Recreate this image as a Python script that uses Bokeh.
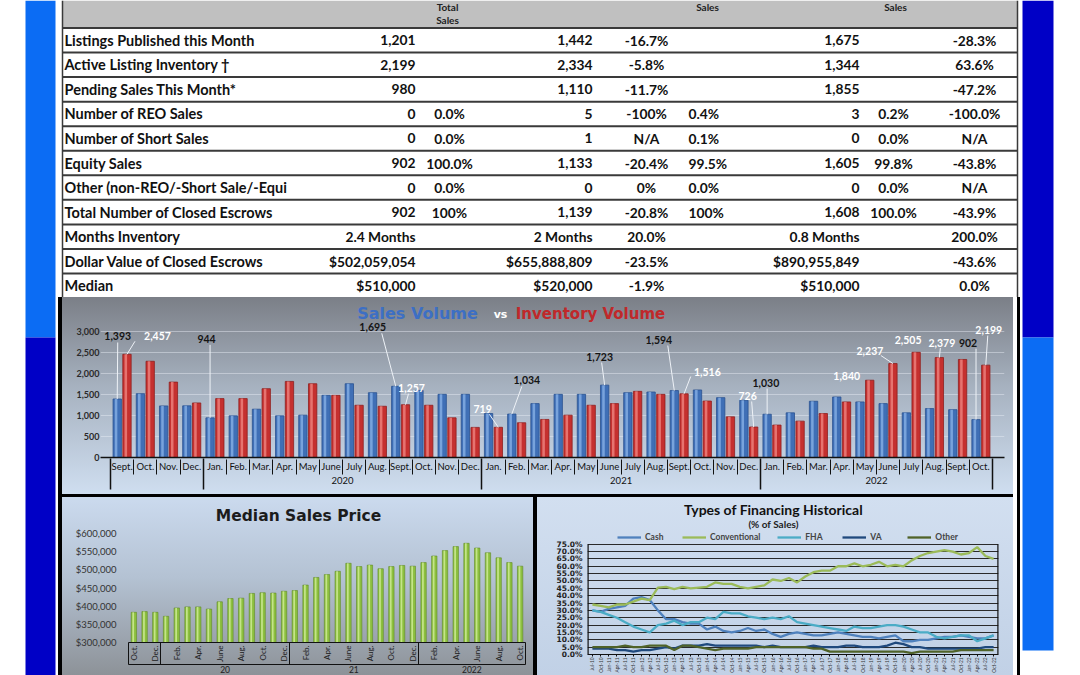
import numpy as np
from bokeh.plotting import figure
from bokeh.models import (Range1d, FixedTicker, LinearAxis, ColumnDataSource, LabelSet, Label,
                          Legend, LegendItem, Spacer, NumeralTickFormatter, PrintfTickFormatter, Grid)
from bokeh.layouts import row, column
from bokeh.transform import dodge
from bokeh.core.properties import value
from bokeh.embed import file_html
from bokeh.resources import INLINE

# ---------------------------------------------------------------- data
row_labels = ["Listings Published this Month", "Active Listing Inventory \u2020",
              "Pending Sales This Month*", "Number of REO Sales", "Number of Short Sales",
              "Equity Sales", "Other (non-REO/-Short Sale/-Equi", "Total Number of Closed Escrows",
              "Months Inventory", "Dollar Value of Closed Escrows", "Median"]
cur_vals = ["1,201", "2,199", "980", "0", "0", "902", "0", "902", "2.4 Months", "$502,059,054", "$510,000"]
cur_share = ["", "", "", "0.0%", "0.0%", "100.0%", "0.0%", "100%", "", "", ""]
prev_vals = ["1,442", "2,334", "1,110", "5", "1", "1,133", "0", "1,139", "2 Months", "$655,888,809", "$520,000"]
prev_chg = ["-16.7%", "-5.8%", "-11.7%", "-100%", "N/A", "-20.4%", "0%", "-20.8%", "20.0%", "-23.5%", "-1.9%"]
prev_share = ["", "", "", "0.4%", "0.1%", "99.5%", "0.0%", "100%", "", "", ""]
yr_vals = ["1,675", "1,344", "1,855", "3", "0", "1,605", "0", "1,608", "0.8 Months", "$890,955,849", "$510,000"]
yr_share = ["", "", "", "0.2%", "0.0%", "99.8%", "0.0%", "100.0%", "", "", ""]
yr_chg = ["-28.3%", "63.6%", "-47.2%", "-100.0%", "N/A", "-43.8%", "N/A", "-43.9%", "200.0%", "-43.6%", "0.0%"]
header_texts = ["Total", "Sales", "Sales", "Sales"]

bar_months = ["Sept.", "Oct.", "Nov.", "Dec.",
              "Jan.", "Feb.", "Mar.", "Apr.", "May", "June", "July", "Aug.", "Sept.", "Oct.", "Nov.", "Dec.",
              "Jan.", "Feb.", "Mar.", "Apr.", "May", "June", "July", "Aug.", "Sept.", "Oct.", "Nov.", "Dec.",
              "Jan.", "Feb.", "Mar.", "Apr.", "May", "June", "July", "Aug.", "Sept.", "Oct."]
bar_groups = ["", "2020", "2021", "2022"]
bar_group_sizes = [4, 12, 12, 10]
sales_volume = [1393, 1520, 1228, 1230, 944, 992, 1150, 992, 1008, 1480, 1756, 1543, 1695, 1598, 1504, 1504,
                1047, 1034, 1283, 1504, 1504, 1723, 1543, 1559, 1594, 1608, 1425, 1362,
                1030, 1063, 1339, 1441, 1323, 1283, 1063, 1165, 1139, 902]
inventory_volume = [2457, 2291, 1795, 1299, 1402, 1402, 1638, 1811, 1756, 1480, 1244, 1220, 1257, 1244, 945, 717,
                    719, 827, 906, 1008, 1244, 1283, 1575, 1504, 1516, 1344, 968, 726,
                    772, 866, 1047, 1323, 1840, 2237, 2505, 2379, 2334, 2199]
labeled_bars = [(0, "sales"), (0, "inv"), (4, "sales"), (12, "sales"), (12, "inv"), (16, "inv"),
                (17, "sales"), (21, "sales"), (24, "sales"), (24, "inv"), (27, "inv"), (28, "sales"),
                (32, "inv"), (33, "inv"), (34, "inv"), (35, "inv"), (37, "sales"), (37, "inv")]

median_months = ["Oct.", "Nov.", "Dec.",
                 "Jan.", "Feb.", "Mar.", "Apr.", "May", "June", "July", "Aug.", "Sept.", "Oct.", "Nov.", "Dec.",
                 "Jan.", "Feb.", "Mar.", "Apr.", "May", "June", "July", "Aug.", "Sept.", "Oct.", "Nov.", "Dec.",
                 "Jan.", "Feb.", "Mar.", "Apr.", "May", "June", "July", "Aug.", "Sept.", "Oct."]
median_groups = ["", "20", "21", "2022"]
median_group_sizes = [3, 12, 12, 10]
median_price = [383000, 385000, 383000,
                372000, 395000, 398000, 398000, 392000, 412000, 421000, 422000, 435000, 437000, 436000, 441000,
                443000, 458000, 479000, 487000, 496000, 518000, 509000, 513000, 503000, 509000, 512000, 510000,
                520000, 538000, 553000, 564000, 573000, 560000, 547000, 533000, 520000, 510000]

fin_dates = ["Jul-10", "Oct-10", "Jan-11", "Apr-11", "Jul-11", "Oct-11", "Jan-12", "Apr-12", "Jul-12", "Oct-12",
             "Jan-13", "Apr-13", "Jul-13", "Oct-13", "Jan-14", "Apr-14", "Jul-14", "Oct-14", "Jan-15", "Apr-15",
             "Jul-15", "Oct-15", "Jan-16", "Apr-16", "Jul-16", "Oct-16", "Jan-17", "Apr-17", "Jul-17", "Oct-17",
             "Jan-18", "Apr-18", "Jul-18", "Oct-18", "Jan-19", "Apr-19", "Jul-19", "Oct-19", "Jan-20", "Apr-20",
             "Jul-20", "Oct-20", "Jan-21", "Apr-21", "Jul-21", "Oct-21", "Jan-22", "Apr-22", "Jul-22", "Oct-22"]
fin_cash = [30, 29, 31, 32, 33, 38, 39, 37, 30, 24, 24, 22, 21, 21, 17, 19, 16, 15, 16, 18,
            16, 17, 14, 12, 14, 15, 14, 13, 13, 14, 15, 14, 13, 12, 12, 11, 12, 13, 9, 9,
            10, 10, 11, 12, 12, 13, 12, 11, 11, 13]
fin_conventional = [34, 33, 32, 34, 34, 36, 38, 37, 45.5, 46, 44.5, 46, 45, 45.5, 46, 49, 48, 48, 46, 45,
                    46, 47, 51, 50, 52, 49, 53, 56, 57, 57, 60, 60, 62, 60, 61, 63, 60, 61, 60, 64,
                    67, 69, 70, 71, 70, 68, 69, 73, 67, 65]
fin_fha = [30, 29, 27, 25, 22, 19, 17, 15, 20, 21, 23, 20, 22, 22, 25, 24, 29, 28, 28, 26,
           25, 24, 25, 24, 26, 22, 21, 20, 19, 18, 17, 16, 19, 18, 18, 19, 20, 20, 19, 17,
           15, 15, 12, 11, 12, 13, 13, 9, 11, 13]
fin_va = [4, 4, 4, 3, 3, 2, 3, 3, 4, 5, 4, 6, 6, 6, 7, 6, 6, 6, 6, 6,
          6, 5, 6, 5, 5, 5, 5, 6, 5, 5, 5, 6, 6, 5, 5, 5, 6, 8, 7, 5,
          5, 4, 4, 4, 4, 4, 4, 4, 5, 5]
fin_other = [5, 5, 5, 5, 6, 5, 5, 6, 6, 6, 3, 6, 6, 5, 4, 3, 4, 4, 4, 4,
             5, 5, 5, 5, 5, 5, 5, 4, 4, 2, 2, 2, 2, 2, 2, 2, 2, 2, 2, 1,
             2, 2, 2, 2, 2, 3, 3, 3, 3, 3]
fin_series = ["Cash", "Conventional", "FHA", "VA", "Other"]

# ---------------------------------------------------------------- style / layout
FONT = "Lato"
BLACK = {"background-color": "#000000"}


def base_fig(w, h, xr, yr, **kw):
    f = figure(width=w, height=h, x_range=xr, y_range=yr, output_backend="svg",
               toolbar_location=None, x_axis_type=None, y_axis_type=None, **kw)
    f.outline_line_color = None
    return f


# side stripes (decoration)
left_fig = base_fig(58, 675, Range1d(0, 58), Range1d(675, 0), min_border=0)
left_fig.quad(left=[25, 25], right=[55, 55], top=[0, 337], bottom=[337, 675],
              fill_color=["#0b6cf4", "#0000c6"], line_color=None)
right_fig = base_fig(60, 675, Range1d(1020, 1080), Range1d(675, 0), min_border=0)
right_fig.quad(left=[1022, 1022], right=[1053, 1053], top=[0, 337], bottom=[337, 650],
               fill_color=["#0000c6", "#0b6cf4"], line_color=None)

# ---------------------------------------------------------------- table
tf = base_fig(962, 297, Range1d(58, 1020), Range1d(297, 0), min_border=0)
tf.quad(left=[62], right=[1017], top=[0], bottom=[27.5], fill_color="#c0c0c0", line_color=None)
n = len(row_labels)
row_h, top0 = 24.55, 27.5
ys = [top0 + row_h * (i + 0.5) for i in range(n)]
seps = [top0 + row_h * k for k in range(n + 1)]
tf.segment(x0=[62] * len(seps), x1=[1017] * len(seps), y0=seps, y1=seps, line_color="#3a3a3a", line_width=2)
tf.segment(x0=[62, 1017], x1=[62, 1017], y0=[0, 0], y1=[297, 297], line_color="#3a3a3a", line_width=1.5)
tf.text(x=[447, 447, 707, 895], y=[6, 19, 6, 6], text=header_texts, text_align="center",
        text_baseline="middle", text_font=value(FONT), text_font_style="bold", text_font_size="10px",
        text_color="#222")
cols = [(row_labels, 64, "left", "14.5px"), (cur_vals, 415, "right", "13.8px"),
        (cur_share, 449, "center", "13.8px"), (prev_vals, 592, "right", "13.8px"),
        (prev_chg, 646, "center", "13.8px"), (prev_share, 688, "left", "13.8px"),
        (yr_vals, 859, "right", "13.8px"), (yr_share, 893, "center", "13.8px"),
        (yr_chg, 974, "center", "13.8px")]
for texts, xpos, align, fsize in cols:
    tf.text(x=[xpos] * n, y=ys, text=texts, text_align=align, text_baseline="middle",
            text_font=value(FONT), text_font_style="bold", text_font_size=fsize, text_color="#111")

# ---------------------------------------------------------------- sales vs inventory bars
nb = len(sales_volume)
bx = list(range(nb))
bsrc = ColumnDataSource(dict(x=bx, sales=sales_volume, inv=inventory_volume))
BY_MAX = 3738
pxu_x = 882 / nb              # px per month slot
pxu_y = 157 / BY_MAX          # px per unit
bp = base_fig(951, 197, Range1d(-0.5 - 10 / pxu_x, nb - 0.5 + 12 / pxu_x), Range1d(0, BY_MAX),
              min_border_left=38, min_border_right=9, min_border_top=3, min_border_bottom=37,
              styles={"background": "linear-gradient(180deg, #7b7f87 0%, #a6b1bf 45%, #cfdef0 100%)"})
bp.background_fill_alpha = 0
bp.border_fill_alpha = 0

yt = list(range(0, 3001, 500))
bp.add_layout(Grid(dimension=1, ticker=FixedTicker(ticks=yt), grid_line_color="#e8eef6", grid_line_alpha=0.45))

so, sw = 0.21, 0.36
bp.vbar(x=dodge("x", -so), top="sales", width=sw, source=bsrc, fill_color="#3f6fb6",
        line_color="#2a5290", line_width=0.8)
bp.vbar(x=dodge("x", -so - 0.05), top="sales", width=0.11, source=bsrc, fill_color="#8cb4e8",
        line_color=None, fill_alpha=0.75)
bp.vbar(x=dodge("x", so), top="inv", width=sw, source=bsrc, fill_color="#c5302f",
        line_color="#8e1f1e", line_width=0.8)
bp.vbar(x=dodge("x", so - 0.05), top="inv", width=0.11, source=bsrc, fill_color="#f08a86",
        line_color=None, fill_alpha=0.75)

# value labels: offsets (px) of the label centre and of the leader-line end from the bar top
label_offsets = [(0.5, 62.5, 0.5, 56.5), (30.5, 18, 8, 13), (-3.5, 79, 0, 73), (-23, 59, -14, 53),
                 (6, 17, 3, 11), (-15.7, 18.8, -9, 13), (15, 33.6, 10, 27.6), (-5, 28.6, -3, 22.6),
                 (-15.5, 51, -6.5, 45), (23.3, 22.3, 6.7, 17.3), (-6, 31.5, -2, 25.5), (-1.3, 31.7, 0, 25.7),
                 (-23, 4.7, None, None), (-23, 13, -12, 8), (-8, 12.5, None, None), (2.5, 14.5, 1, 9.5),
                 (-8, 77, 0, 71), (3, 35.6, 2, 29.6)]
lx, ly, lt, lc = [], [], [], []
sx0, sy0, sx1, sy1 = [], [], [], []
for (idx, ser), (dx, dy, ex, ey) in zip(labeled_bars, label_offsets):
    v = sales_volume[idx] if ser == "sales" else inventory_volume[idx]
    xb = idx + (-so if ser == "sales" else so)
    lx.append(xb + dx / pxu_x)
    ly.append(v + dy / pxu_y)
    lt.append(f"{v:,}")
    lc.append("#141414" if ser == "sales" else "#ffffff")
    if ex is not None:
        sx0.append(xb)
        sy0.append(v)
        sx1.append(xb + ex / pxu_x)
        sy1.append(v + ey / pxu_y)
bp.segment(x0=sx0, y0=sy0, x1=sx1, y1=sy1, line_color="#eef2f7", line_width=1)
bp.add_layout(LabelSet(x="x", y="y", text="t", text_color="c",
                       source=ColumnDataSource(dict(x=lx, y=ly, t=lt, c=lc)),
                       text_align="center", text_baseline="middle", text_font=value(FONT),
                       text_font_size="10.5px", text_font_style="bold"))

for txt, px, py, size, col in [("Sales Volume", 317, 144, "16px", "#3d6fc4"),
                               ("vs", 400, 143, "11px", "#ffffff"),
                               ("Inventory Volume", 490, 144, "15px", "#c0282a")]:
    bp.add_layout(Label(x=px, y=py, x_units="screen", y_units="screen", text=txt, text_align="center",
                        text_baseline="middle", text_font="DejaVu Sans", text_font_style="bold",
                        text_font_size=size, text_color=col))

bp.add_layout(LinearAxis(ticker=FixedTicker(ticks=yt), formatter=NumeralTickFormatter(format="0,0"),
                         axis_line_color=None, major_tick_line_color=None, minor_tick_line_color=None,
                         major_tick_in=0, major_tick_out=0, minor_tick_in=0, minor_tick_out=0,
                         major_label_standoff=1, major_label_text_font=FONT, major_label_text_font_size="9px",
                         major_label_text_font_style="bold", major_label_text_color="#2a2a2a"), "left")
# month labels
bp.add_layout(LinearAxis(ticker=FixedTicker(ticks=bx), major_label_overrides={i: m for i, m in enumerate(bar_months)},
                         axis_line_color="#111111", axis_line_width=1.5, major_tick_in=0, major_tick_out=0,
                         major_tick_line_color=None, minor_tick_in=0, minor_tick_out=0, minor_tick_line_color=None,
                         major_label_standoff=3, major_label_text_font=FONT,
                         major_label_text_font_size="9.5px", major_label_text_color="#111111"), "below")
# year labels + month separators
month_bounds = [i - 0.5 for i in range(nb + 1)]
gb = [float(v) for v in np.cumsum([0] + bar_group_sizes) - 0.5]
gc = [(gb[i] + gb[i + 1]) / 2 for i in range(len(bar_groups))]
bp.add_layout(LinearAxis(ticker=FixedTicker(ticks=gc, minor_ticks=month_bounds),
                         major_label_overrides={c: g for c, g in zip(gc, bar_groups)},
                         axis_line_color=None, major_tick_in=0, major_tick_out=0, major_tick_line_color=None,
                         minor_tick_in=15, minor_tick_out=0, minor_tick_line_color="#111111",
                         major_label_standoff=2, major_label_text_font=FONT,
                         major_label_text_font_size="9.5px", major_label_text_color="#111111"), "below")
# group separators
bp.add_layout(LinearAxis(ticker=FixedTicker(ticks=[], minor_ticks=gb),
                         axis_line_color=None, major_tick_in=0, major_tick_out=0, major_tick_line_color=None,
                         minor_tick_in=28, minor_tick_out=3, minor_tick_line_color="#111111",
                         minor_tick_line_width=1.5, major_label_standoff=0), "below")

# ---------------------------------------------------------------- median sales price
nm = len(median_price)
mx = list(range(nm))
msrc = ColumnDataSource(dict(x=mx, price=median_price))
m_px = 109 / 300000                      # px per dollar
m_top = 600000 + 36 / m_px               # frame reaches the top of the panel
mp = base_fig(471, 178, Range1d(-0.5, nm - 0.5), Range1d(300000, m_top),
              min_border_left=66, min_border_right=8, min_border_top=0, min_border_bottom=33,
              styles={"background": "linear-gradient(180deg, #cbdaee 0%, #b4c2d3 45%, #8d9298 100%)"})
mp.background_fill_alpha = 0
mp.border_fill_alpha = 0
mp.vbar(x="x", top="price", bottom=300000, width=0.5, source=msrc, fill_color="#8cbf3f",
        line_color="#5f8a25", line_width=0.6)
mp.vbar(x=dodge("x", -0.06), top="price", bottom=300000, width=0.16, source=msrc, fill_color="#d2ee9c",
        line_color=None, fill_alpha=0.8)
mp.add_layout(Label(x=170, y=127, x_units="screen", y_units="screen", text="Median Sales Price",
                    text_align="center", text_baseline="middle", text_font="DejaVu Sans",
                    text_font_style="bold", text_font_size="15.5px", text_color="#1c1c1c"))
mp.add_layout(LinearAxis(ticker=FixedTicker(ticks=list(range(300000, 600001, 50000))),
                         formatter=NumeralTickFormatter(format="$0,0"), axis_line_color=None,
                         major_tick_line_color=None, minor_tick_line_color=None, major_tick_in=0,
                         major_tick_out=0, minor_tick_in=0, minor_tick_out=0, major_label_standoff=12,
                         major_label_text_font=FONT, major_label_text_font_size="9.5px",
                         major_label_text_color="#333333"), "left")
mgb = [float(v) for v in np.cumsum([0] + median_group_sizes) - 0.5]
mgc = [(mgb[i] + mgb[i + 1]) / 2 for i in range(len(median_groups))]
shown = mx[::2]
mp.add_layout(LinearAxis(ticker=FixedTicker(ticks=shown),
                         major_label_overrides={i: median_months[i] for i in shown},
                         major_label_orientation=np.pi / 2, axis_line_color="#111111", axis_line_width=1.2,
                         major_tick_in=0, major_tick_out=0, major_tick_line_color=None,
                         minor_tick_in=0, minor_tick_out=0, minor_tick_line_color=None,
                         major_label_standoff=3, major_label_text_font=FONT, major_label_text_font_size="8px",
                         major_label_text_color="#222222"), "below")
mp.add_layout(LinearAxis(ticker=FixedTicker(ticks=mgc, minor_ticks=mgb),
                         major_label_overrides={c: g for c, g in zip(mgc, median_groups)},
                         axis_line_color="#111111", major_tick_in=0, major_tick_out=0, major_tick_line_color=None,
                         minor_tick_in=22, minor_tick_out=0, minor_tick_line_color="#111111",
                         major_label_standoff=1, major_label_text_font=FONT,
                         major_label_text_font_size="8.5px", major_label_text_color="#222222"), "below")

# ---------------------------------------------------------------- financing
nf = len(fin_dates)
fx = list(range(nf))
fsrc = ColumnDataSource(dict(x=fx, Cash=fin_cash, Conventional=fin_conventional, FHA=fin_fha,
                             VA=fin_va, Other=fin_other))
F_BOTTOM = 20                         # bottom border (px) holding the date axis
f_px = (178 - F_BOTTOM - 47) / 75     # px per percentage point
f_top = 75 + 47 / f_px                # frame reaches the top of the panel
fxs, fxe = -0.6, nf - 0.4
fp = base_fig(476, 178, Range1d(fxs, fxe), Range1d(0, f_top),
              min_border_left=50, min_border_right=15, min_border_top=0, min_border_bottom=F_BOTTOM,
              styles={"background": "linear-gradient(180deg, #d2dff0 0%, #c1d1e6 100%)"})
fp.background_fill_alpha = 0
fp.border_fill_alpha = 0
ft = list(range(0, 76, 5))
fp.add_layout(Grid(dimension=1, ticker=FixedTicker(ticks=ft), grid_line_color="#2a2a2a", grid_line_width=1))
fp.segment(x0=[fxs, fxe], x1=[fxs, fxe], y0=[0, 0], y1=[75, 75], line_color="#111111", line_width=2.4)
fin_colors = ["#4f81bd", "#9bbb59", "#4bacc6", "#1f497d", "#4f6228"]
items = []
for name, col in zip(fin_series, fin_colors):
    r = fp.line(x="x", y=name, source=fsrc, line_color=col, line_width=2.3)
    items.append(LegendItem(label=name, renderers=[r]))
fh = 178 - F_BOTTOM                   # frame height in px
fp.add_layout(Legend(items=items, orientation="horizontal", location=(30, fh - 543 + 497),
                     background_fill_alpha=0, border_line_alpha=0, padding=0, margin=0, spacing=17,
                     glyph_width=24, glyph_height=10, label_text_font=FONT, label_text_font_size="8.5px",
                     label_text_font_style="bold", label_standoff=4, label_height=10))
fp.add_layout(Label(x=186, y=fh - 510 + 497, x_units="screen", y_units="screen",
                    text="Types of Financing Historical", text_align="center", text_baseline="middle",
                    text_font=FONT, text_font_style="bold", text_font_size="14px", text_color="#111111"))
fp.add_layout(Label(x=186, y=fh - 524 + 497, x_units="screen", y_units="screen", text="(% of Sales)",
                    text_align="center", text_baseline="middle", text_font=FONT, text_font_style="bold",
                    text_font_size="10px", text_color="#222222"))
fp.add_layout(LinearAxis(ticker=FixedTicker(ticks=ft), formatter=PrintfTickFormatter(format="%.1f%%"),
                         axis_line_color=None, major_tick_line_color=None, minor_tick_line_color=None,
                         major_tick_in=0, major_tick_out=0, minor_tick_in=0, minor_tick_out=0,
                         major_label_standoff=5, major_label_text_font="DejaVu Sans",
                         major_label_text_font_size="7.5px", major_label_text_font_style="bold",
                         major_label_text_color="#222222"), "left")
fp.add_layout(LinearAxis(ticker=FixedTicker(ticks=fx), major_label_overrides={i: d for i, d in enumerate(fin_dates)},
                         major_label_orientation=np.pi / 2, axis_line_color="#111111", major_tick_in=0,
                         major_tick_out=2, major_tick_line_color="#111111", minor_tick_in=0, minor_tick_out=0,
                         minor_tick_line_color=None, major_label_standoff=1, major_label_text_font=FONT,
                         major_label_text_font_size="4.8px", major_label_text_color="#333333"), "below")

# ---------------------------------------------------------------- page layout
bottom_row = row(column(mp), Spacer(width=4, height=178, styles=BLACK), column(fp))
chart_col = column(bp, Spacer(width=951, height=3, styles=BLACK), bottom_row)
lower = row(Spacer(width=4, height=378, styles=BLACK), chart_col, Spacer(width=4, height=378),
            Spacer(width=3, height=378, styles=BLACK))
middle = column(tf, lower)
page = row(left_fig, middle, right_fig)

open("out.html", "w").write(file_html(page, INLINE, title="Sales and Inventory"))
